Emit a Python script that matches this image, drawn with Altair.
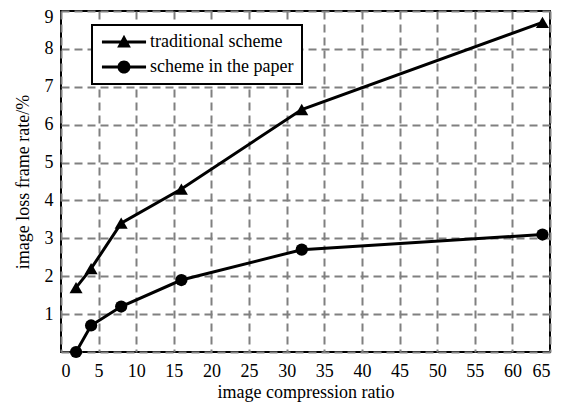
import altair as alt
import pandas as pd

# ---- data ----
ratio = [2, 4, 8, 16, 32, 64]
traditional = [1.7, 2.2, 3.4, 4.3, 6.4, 8.7]
paper = [0.0, 0.7, 1.2, 1.9, 2.7, 3.1]
series_names = ["traditional scheme", "scheme in the paper"]
x_ticks = list(range(0, 66, 5))
y_ticks = list(range(0, 10))

records = []
for r, a in zip(ratio, traditional):
    records.append({"ratio": r, "rate": a, "series": series_names[0], "entry": series_names[0]})
for r, b in zip(ratio, paper):
    records.append({"ratio": r, "rate": b, "series": series_names[1], "entry": series_names[1]})
df = pd.DataFrame(records)

FONT = "Liberation Serif, Times New Roman, serif"

# legend symbols: a thick line segment with the marker on it (size 196 -> r = 7px)
tri_path = "M-3.15,-0.2H3.15V0.2H-3.15ZM0,-1.05L0.98,0.78L-0.98,0.78Z"
circ_path = ("M-3.15,-0.2H3.15V0.2H-3.15Z"
             "M0.93,0A0.93,0.93 0 1,1 -0.93,0A0.93,0.93 0 1,1 0.93,0Z")

x_enc = alt.X("ratio:Q", scale=alt.Scale(domain=[0, 65], nice=False),
              axis=alt.Axis(values=x_ticks, title="image compression ratio",
                            labelOverlap="greedy", labelSeparation=-40))
y_enc = alt.Y("rate:Q", scale=alt.Scale(domain=[0, 9], nice=False),
              axis=alt.Axis(values=y_ticks, title="image loss frame rate/%",
                            labelOverlap="greedy", labelSeparation=-40,
                            labelOffset={"condition": {"test": "datum.value == 9", "value": 6},
                                         "value": 0},
                            labelExpr="datum.value == 0 ? '' : datum.label"))

base = alt.Chart(df)

lines = base.mark_line(color="black", strokeWidth=3).encode(
    x=x_enc, y=y_enc, detail="series:N")

tri_pts = base.transform_filter(alt.datum.series == series_names[0]).mark_point(
    shape="triangle-up", filled=True, color="black", size=170, opacity=1).encode(
    x=x_enc, y=y_enc)

circ_pts = base.transform_filter(alt.datum.series == series_names[1]).mark_point(
    shape="circle", filled=True, color="black", size=150, opacity=1).encode(
    x=x_enc, y=y_enc)

legend_layer = base.mark_point(filled=True, opacity=0, color="black").encode(
    x=x_enc, y=y_enc,
    shape=alt.Shape("entry:N",
                    scale=alt.Scale(domain=series_names, range=[tri_path, circ_path]),
                    legend=alt.Legend(
                        title=None, orient="none", legendX=31, legendY=14,
                        symbolSize=196, symbolOpacity=1,
                        symbolFillColor="black", symbolStrokeWidth=0,
                        symbolOffset=15,
                        labelFont=FONT, labelFontSize=18, labelColor="black",
                        labelOffset=17, rowPadding=7, padding=8, labelLimit=400,
                        strokeColor="black", fillColor="white",
                    )))

chart = alt.layer(lines, tri_pts, circ_pts, legend_layer).properties(
    width=489, height=341,
    padding={"left": 53, "top": 3, "right": 13, "bottom": 50},
    autosize=alt.AutoSizeParams(type="none"),
).configure_view(
    stroke="black", strokeWidth=2
).configure_axis(
    grid=True, gridColor="#808080", gridDash=[8, 5], gridWidth=2, gridOpacity=1,
    domain=False, ticks=True, tickSize=0, tickColor="black",
    labelFont=FONT, labelFontSize=18, labelColor="black",
    titleFont=FONT, titleFontSize=18, titleColor="black", titleFontWeight="normal",
).configure_axisX(
    labelPadding=10, titlePadding=3,
).configure_axisY(
    labelPadding=8, titlePadding=12,
).configure_legend(
    strokeWidth=2,
)

chart.save("out.html", embed_options={"renderer": "svg", "actions": False})
